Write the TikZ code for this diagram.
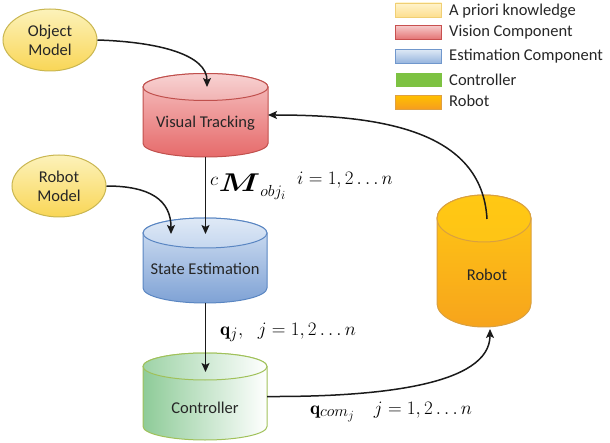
\RequirePackage{fix-cm}
\documentclass[tikz,border=0pt]{standalone}
\usepackage{amsmath}
\usepackage{bm}
\usepackage{graphicx}
\usepackage{fontspec}
\newfontfamily\carl{Carlito}
\DeclareMathSizes{19}{19}{16}{12.5}
\usetikzlibrary{arrows.meta,shapes.geometric}
\definecolor{txt}{HTML}{262626}
\definecolor{yelT}{HTML}{FCF2BA}
\definecolor{yelB}{HTML}{F9D656}
\definecolor{yelD}{HTML}{C9B650}
\definecolor{redT}{HTML}{F6C3C3}
\definecolor{redB}{HTML}{E66A6A}
\definecolor{redD}{HTML}{C0504D}
\definecolor{redFT}{HTML}{F8D2D2}
\definecolor{redFB}{HTML}{F1B3B3}
\definecolor{bluT}{HTML}{D6E3F4}
\definecolor{bluB}{HTML}{7FA2D5}
\definecolor{bluD}{HTML}{5A86C2}
\definecolor{bluFT}{HTML}{DFE9F6}
\definecolor{bluFB}{HTML}{C5D7EF}
\definecolor{grnL}{HTML}{8ECB98}
\definecolor{grnD}{HTML}{A0C15A}
\definecolor{grnFL}{HTML}{9ED3A7}
\definecolor{orT}{HTML}{FFC814}
\definecolor{orB}{HTML}{F7A41C}
\definecolor{orD}{HTML}{D9A040}
\definecolor{lgyT}{HTML}{FFF4CC}
\definecolor{lgyB}{HTML}{FDDE8E}
\definecolor{lgyD}{HTML}{F0CF74}
\definecolor{lrT}{HTML}{F6CACA}
\definecolor{lrB}{HTML}{E47272}
\definecolor{lrD}{HTML}{C8504F}
\definecolor{lbT}{HTML}{DDE8F5}
\definecolor{lbB}{HTML}{94B3DD}
\definecolor{lbD}{HTML}{7097CC}
\definecolor{lg}{HTML}{7DC242}
\definecolor{loT}{HTML}{FFC000}
\definecolor{loB}{HTML}{F69C20}
\definecolor{loD}{HTML}{E0A040}
\definecolor{arr}{HTML}{1A1A1A}
\newcommand\mycyl[6]{%
  \path[#6] (#1-#2,#3) -- (#1-#2,#4) arc[start angle=180,end angle=0,x radius=#2,y radius=#5]
     -- (#1+#2,#3) arc[start angle=0,end angle=-180,x radius=#2,y radius=#5] -- cycle;}
\newcommand\mytop[6]{%
  \path[#6] (#1,#3) ellipse[x radius=#2,y radius=#5];}
\begin{document}
\begin{tikzpicture}[x=1pt,y=-1pt,
  lbl/.style={font=\carl\fontsize{16.5}{19}\selectfont, text=txt, inner sep=0pt},
  mlbl/.style={font=\fontsize{19}{22}\selectfont, text=black, inner sep=0pt},
  box/.style={inner sep=0pt, outer sep=0pt},
  conn/.style={draw=arr, line width=1.5pt, -{Stealth[length=9pt,width=8pt,inset=2pt]}},
  model/.style={ellipse, draw=yelD, line width=1pt, top color=yelT, bottom color=yelB,
     minimum width=94pt, minimum height=62pt, inner sep=0pt, align=center,
     font=\carl\fontsize{16.5}{19}\selectfont, text=txt},
  legbox/.style={minimum width=46pt, minimum height=14pt, inner sep=0pt, line width=0.8pt}
]
\useasboundingbox (0,0) rectangle (610,443);
% ---------- legend
\node[legbox, draw=lgyD, top color=lgyT, bottom color=lgyB] (lg1) at (418.5,10) {};
\node[legbox, draw=lrD, top color=lrT, bottom color=lrB] (lg2) at (418.5,32.5) {};
\node[legbox, draw=lbD, top color=lbT, bottom color=lbB] (lg3) at (418.5,56.5) {};
\node[legbox, fill=lg] (lg4) at (418.5,80) {};
\node[legbox, draw=loD, top color=loT, bottom color=loB] (lg5) at (418.5,102.5) {};
\node[lbl, anchor=base west] (lt1) at (449,16) {A priori knowledge};
\node[lbl, anchor=base west] (lt2) at (449,37) {Vision Component};
\node[lbl, anchor=base west] (lt3) at (449,61) {Estimation Component};
\node[lbl, anchor=base west] (lt4) at (449,86) {Controller};
\node[lbl, anchor=base west] (lt5) at (449,107) {Robot};
% ---------- models
\node[model] (om) at (50,40) {Object\\Model};
\node[model] (rm) at (59,186) {Robot\\Model};
% ---------- cylinders
\mycyl{205.5}{62.5}{87}{143.5}{13.5}{draw=redD, line width=1pt, top color=redT, bottom color=redB}
\mytop{205.5}{62.5}{87}{143.5}{13.5}{draw=redD, line width=1pt, top color=redFT, bottom color=redFB}
\node[box, minimum width=125pt, minimum height=84pt] (vt) at (205.5,115) {};
\coordinate (vttop) at (207,87);
\node[lbl, anchor=base] (vtl) at (205.5,128) {Visual Tracking};

\mycyl{205}{62}{233}{288}{15}{draw=bluD, line width=1pt, top color=bluT, bottom color=bluB}
\mytop{205}{62}{233}{288}{15}{draw=bluD, line width=1pt, top color=bluFT, bottom color=bluFB}
\node[box, minimum width=124pt, minimum height=85pt] (se) at (205,260.5) {};
\coordinate (setopA) at (171,234);
\coordinate (setopB) at (205.5,234);
\node[lbl, anchor=base] (sel) at (205,275) {State Estimation};

\mycyl{205}{62}{366.5}{426.5}{13.5}{draw=grnD, line width=1pt, left color=grnL, right color=white}
\mytop{205}{62}{366.5}{426.5}{13.5}{draw=grnD, line width=1pt, left color=grnFL, right color=white}
\node[box, minimum width=124pt, minimum height=87pt] (ctrl) at (205,396.5) {};
\coordinate (cttop) at (205.5,372);
\node[lbl, anchor=base] (ctl) at (205,413) {Controller};

\mycyl{484}{47}{218.5}{303.5}{23.5}{draw=orD, line width=1pt, top color=orT, bottom color=orB}
\mytop{484}{47}{218.5}{303.5}{23.5}{draw=orD, line width=1pt, top color=orT, bottom color=orT!90!orB}
\node[box, minimum width=94pt, minimum height=132pt] (rob) at (484,261) {};
\coordinate (robtop) at (487,219);
\coordinate (robbot) at (490,329);
\node[lbl, anchor=base] (robl) at (487,281) {Robot};
% ---------- connectors
\draw[conn] (om.east) .. controls (160,42) and (207,55) .. (vttop);
\draw[conn] (rm.east) .. controls (150,186) and (171,200) .. (setopA);
\draw[conn] (vt.south -| setopB) -- (setopB);
\draw[conn] (se.south -| cttop) -- (cttop);
\draw[conn] (ctrl.east) .. controls (380,397) and (490,385) .. (robbot);
\draw[conn] (robtop) .. controls (482,130) and (380,115) .. (vt.east);
% ---------- math labels
\node[mlbl, anchor=base west] (lm) at (210,192) {${}^{\textstyle c}\scalebox{1.75}[1.35]{$\bm{M}$}_{obj_i}$};
\node[mlbl, anchor=base west] (li) at (297,185) {$i=1,2\ldots n$};
\node[mlbl, anchor=base west] (lq) at (220,335) {$\mathbf{q}_j,\ \ j=1,2\ldots n$};
\node[mlbl, anchor=base west] (lqc) at (310,414) {$\mathbf{q}_{com_j}\quad j=1,2\ldots n$};
\end{tikzpicture}
\end{document}
